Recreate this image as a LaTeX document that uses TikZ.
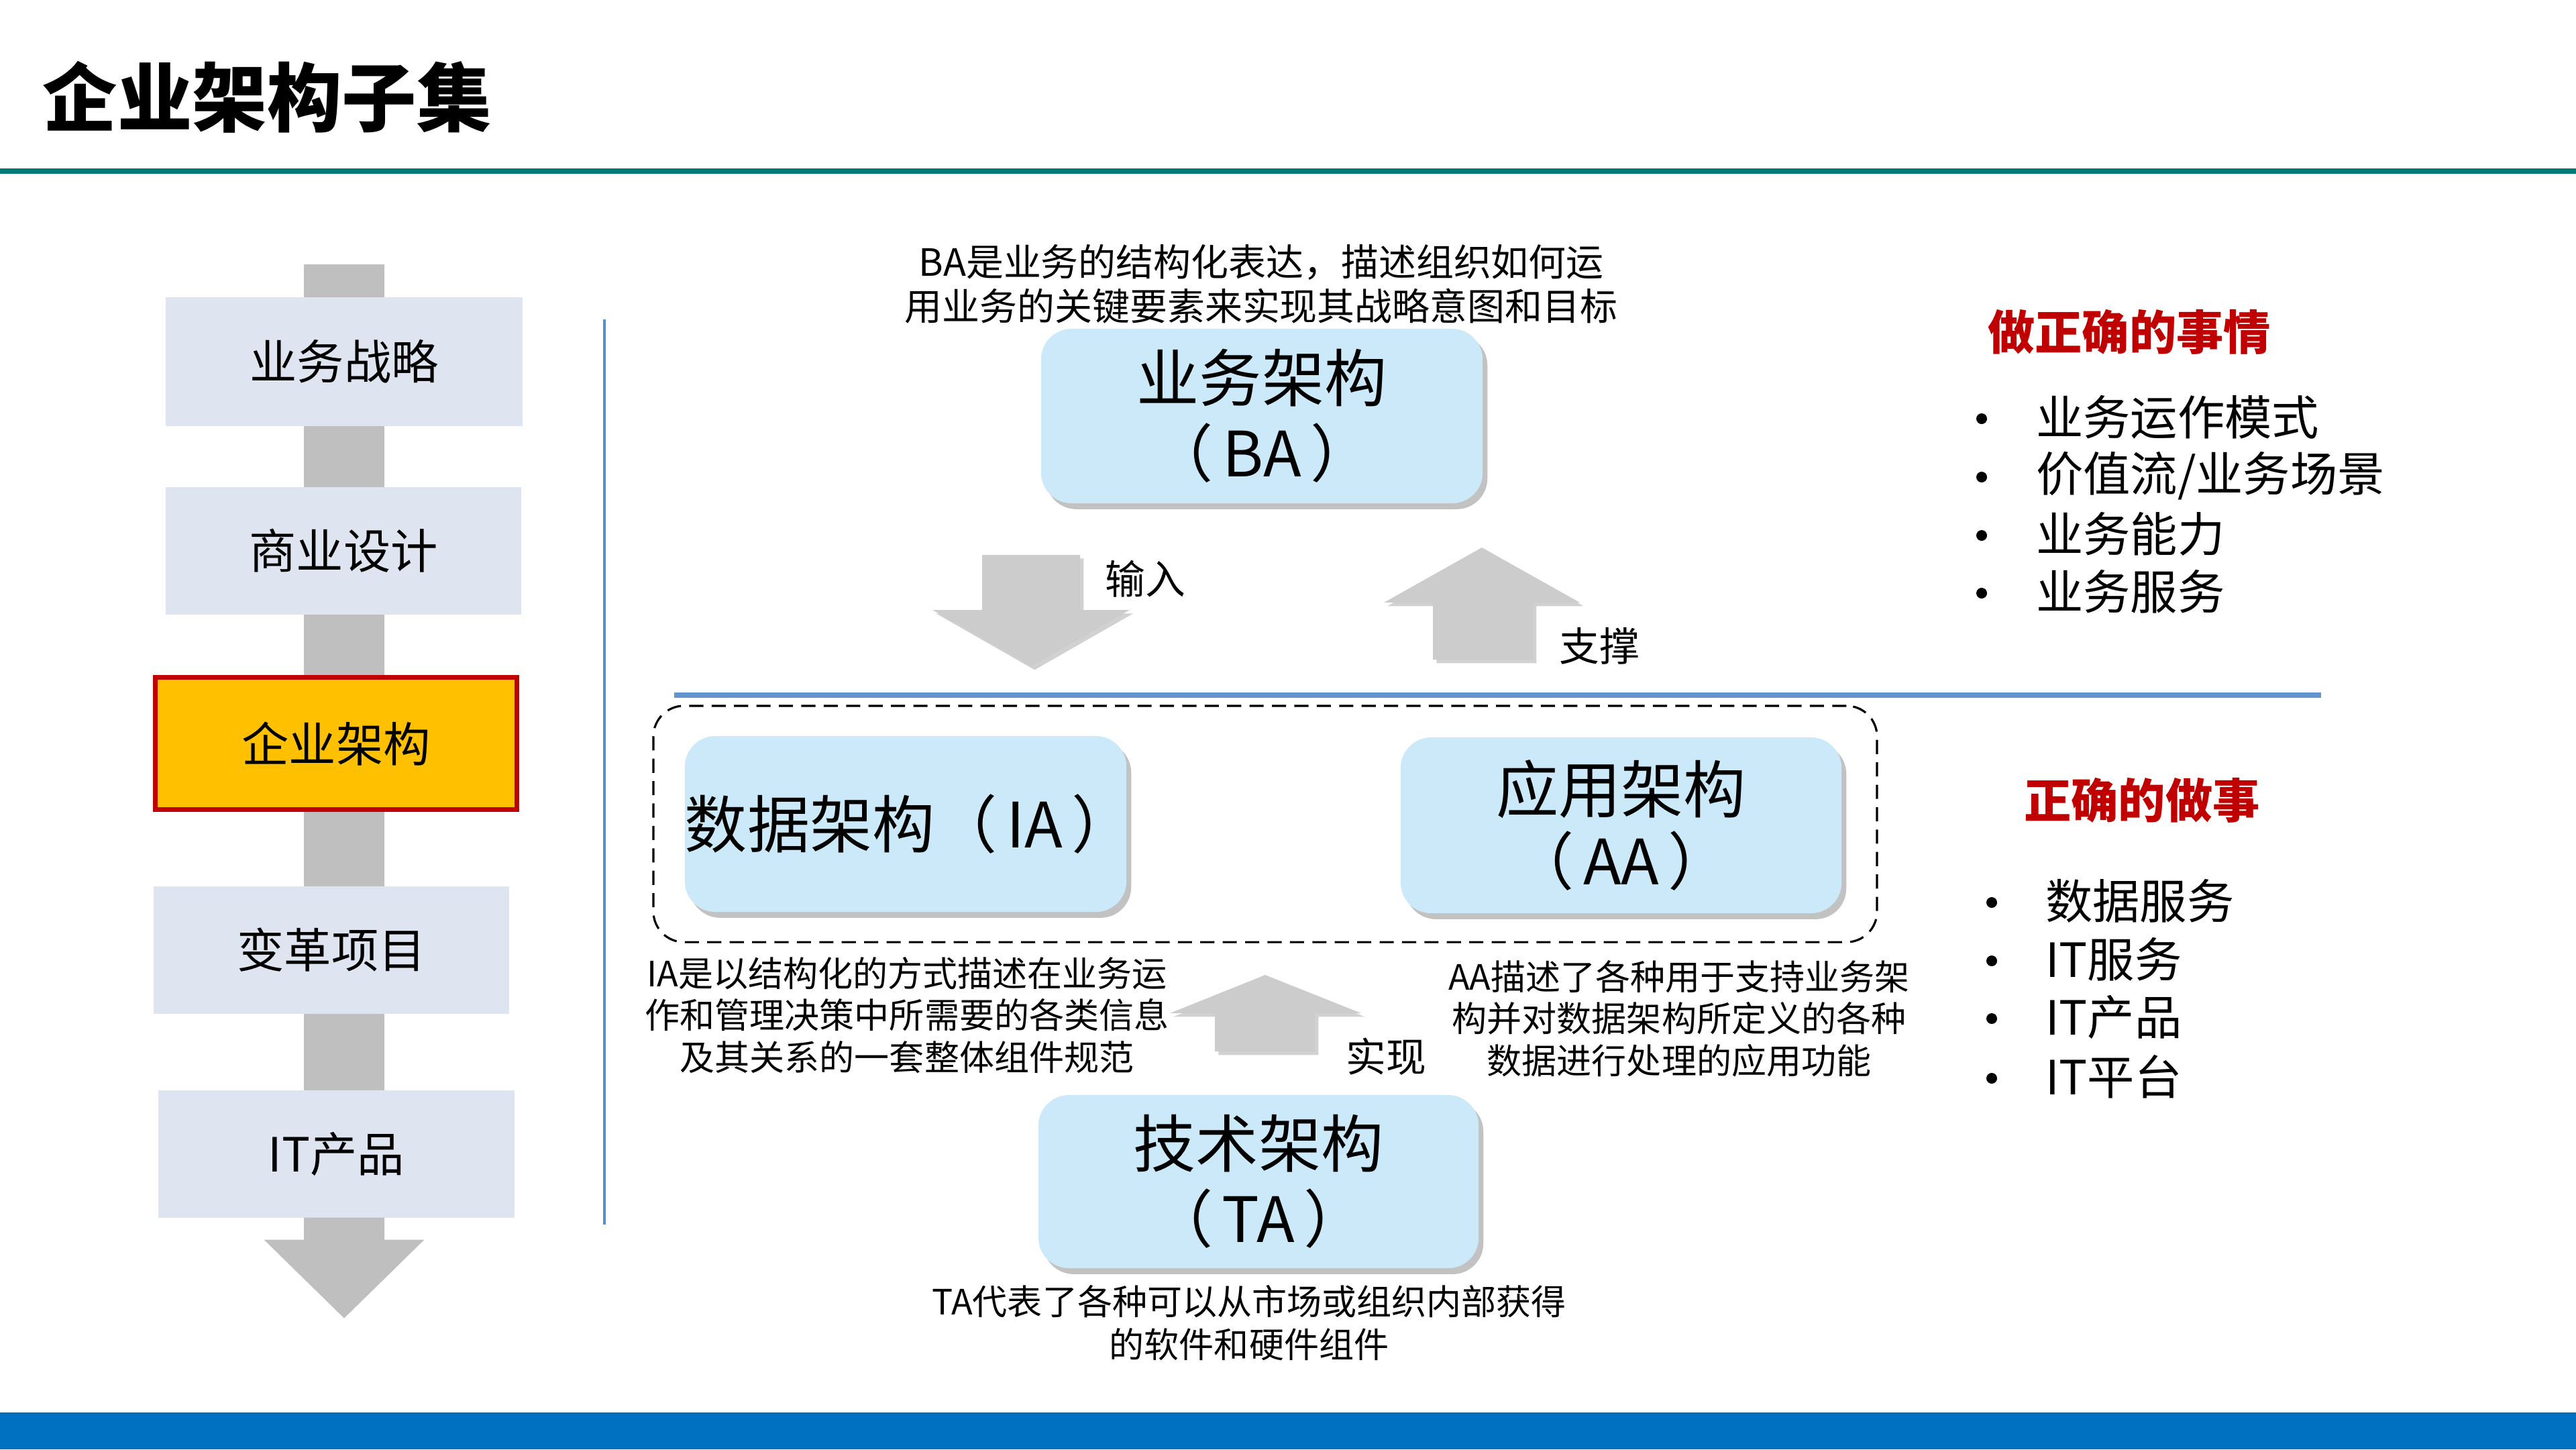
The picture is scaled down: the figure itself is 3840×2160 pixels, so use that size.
\documentclass[tikz,border=0pt]{standalone}
\usepackage{fontspec}
\setmainfont{Noto Sans CJK SC}
\usetikzlibrary{shadows,calc,backgrounds}

\newcommand\szfont[2]{\fontsize{#1}{#2}\selectfont}
\newcommand\pk{\kern3.8pt}

\definecolor{stagefill}{RGB}{222,228,240}
\definecolor{spinegray}{RGB}{191,191,191}
\definecolor{focusfill}{RGB}{255,192,0}
\definecolor{focusline}{RGB}{192,0,0}
\definecolor{archfill}{RGB}{204,233,250}
\definecolor{blockgray}{RGB}{204,204,204}
\definecolor{vrulecol}{RGB}{91,140,204}
\definecolor{hrulecol}{RGB}{98,149,207}
\definecolor{headred}{RGB}{192,0,0}
\definecolor{titleline}{RGB}{0,122,116}
\definecolor{footerblue}{RGB}{0,112,192}

\begin{document}
\begin{tikzpicture}[x=0.01cm,y=-0.01cm,
  every node/.style={inner sep=0pt, outer sep=0pt},
  stage/.style={fill=stagefill, font=\szfont{20pt}{24pt}},
  spinebar/.style={draw=spinegray, line width=1.2cm},
  arch/.style={fill=archfill, rounded corners=13pt, align=center,
    drop shadow={shadow xshift=2pt, shadow yshift=-2.5pt, opacity=0.4, fill=black!60},
    font=\szfont{26.5pt}{32pt}},
  desc/.style={align=center, font=\szfont{14.8pt}{17.8pt}},
  blockarrow/.style={fill=blockgray,
    drop shadow={shadow xshift=1.5pt, shadow yshift=-1.5pt, opacity=0.3, fill=black!60}},
  arrowlabel/.style={font=\szfont{17pt}{20pt}},
  heading/.style={anchor=west, text=headred, font=\bfseries\szfont{20pt}{24pt}},
  item/.style={anchor=west, font=\szfont{20pt}{24pt}},
  dot/.style={circle, fill=black, minimum size=0.16cm}
]
\useasboundingbox (0,0) rectangle (3840,2160);

% title and header rule
\node[anchor=west, font=\bfseries\szfont{31.7pt}{36pt}] (title) at (64,145) {企业架构子集};
\draw[titleline, line width=2.3pt] (0,255) -- (3840,255);

% footer band
\fill[footerblue] (0,2105) rectangle (3840,2160);

% left column: the stages
\node[stage, minimum width=5.32cm, minimum height=1.91cm] (b1) at (513,539) {业务战略};
\node[stage, minimum width=5.30cm, minimum height=1.90cm] (b2) at (512,821) {商业设计};
\node[stage, fill=focusfill, draw=focusline, line width=2pt,
      minimum width=5.39cm, minimum height=1.96cm] (b3) at (501,1108) {企业架构};
\node[stage, minimum width=5.30cm, minimum height=1.89cm] (b4) at (494,1416) {变革项目};
\node[stage, minimum width=5.31cm, minimum height=1.89cm] (b5) at (501.5,1720) {IT产品};

\coordinate (spine) at (513,394);
\begin{scope}[on background layer]
  \draw[spinebar] (spine) -- (b1.north -| spine);
  \draw[spinebar] (b1.south -| spine) -- (b2.north -| spine);
  \draw[spinebar] (b2.south -| spine) -- (b3.north -| spine);
  \draw[spinebar] (b3.south -| spine) -- (b4.north -| spine);
  \draw[spinebar] (b4.south -| spine) -- (b5.north -| spine);
\end{scope}
\fill[spinegray, shift={(b5.south -| spine)}]
  (-60,0) -- (60,0) -- (60,33) -- (119.5,33) -- (0,150) -- (-119.5,33) -- (-60,33) -- cycle;

% separators
\draw[vrulecol, line width=1.2pt] (901,476) -- (901,1825);
\draw[hrulecol, line width=2.3pt] (1005,1036) -- (3460,1036);

% architecture domains
\node[draw, dash pattern=on 6pt off 3.5pt, line width=0.9pt, rounded corners=13pt,
      minimum width=18.23cm, minimum height=3.52cm] (grp) at (1886,1228) {};

\node[arch, minimum width=6.58cm, minimum height=2.60cm] (ba) at (1881,620) {业务架构\\（\pk BA\pk）};
\node[arch, text width=6.58cm, align=left, minimum height=2.62cm] (ia) at (1350,1228) {数据架构（\pk IA\pk）};
\node[arch, minimum width=6.57cm, minimum height=2.62cm, font=\szfont{26.5pt}{30.5pt}] (aa) at (2416.5,1230) {应用架构\\（\pk AA\pk）};
\node[arch, minimum width=6.56cm, minimum height=2.58cm] (ta) at (1876,1761) {技术架构\\（\pk TA\pk）};

% descriptions
\node[desc, font=\szfont{15.9pt}{18.8pt}] (badesc) at (1880,423)
  {BA是业务的结构化表达，描述组织如何运\\用业务的关键要素来实现其战略意图和目标};
\node[desc] (iadesc) at (1352,1513)
  {IA是以结构化的方式描述在业务运\\作和管理决策中所需要的各类信息\\及其关系的一套整体组件规范};
\node[desc] (aadesc) at (2503,1518)
  {AA描述了各种用于支持业务架\\构并对数据架构所定义的各种\\数据进行处理的应用功能};
\node[desc, font=\szfont{14.8pt}{18.2pt}] (tadesc) at (1862,1972)
  {TA代表了各种可以从市场或组织内部获得\\的软件和硬件组件};

% block arrows between the layers
\fill[blockarrow] (1464,827) -- (1610,827) -- (1610,909) -- (1684,909) -- (1537,993)
  -- (1390,909) -- (1464,909) -- cycle;
\node[arrowlabel] (lin) at (1707,863) {输入};

\fill[blockarrow] (2136,983) -- (2285,983) -- (2285,898) -- (2355,898) -- (2209,816)
  -- (2063,898) -- (2136,898) -- cycle;
\node[arrowlabel] (lsup) at (2384,963) {支撑};

\fill[blockarrow] (1811,1567) -- (1960,1567) -- (1960,1510) -- (2029,1510) -- (1886,1453)
  -- (1744,1510) -- (1811,1510) -- cycle;
\node[arrowlabel] (lreal) at (2066,1575) {实现};

% right-hand lists
\node[heading] (h1) at (2963,495) {做正确的事情};
\node[dot] (d11) at (2954,624) {};
\node[dot] (d12) at (2954,711) {};
\node[dot] (d13) at (2954,798) {};
\node[dot] (d14) at (2954,884) {};
\node[item] (i11) at (3035,622) {业务运作模式};
\node[item] (i12) at (3035,709) {价值流/业务场景};
\node[item] (i13) at (3035,796) {业务能力};
\node[item] (i14) at (3035,882) {业务服务};

\node[heading] (h2) at (3017,1193) {正确的做事};
\node[dot] (d21) at (2969,1345) {};
\node[dot] (d22) at (2969,1432) {};
\node[dot] (d23) at (2969,1518) {};
\node[dot] (d24) at (2969,1607) {};
\node[item] (i21) at (3049,1343) {数据服务};
\node[item] (i22) at (3049,1430) {IT服务};
\node[item] (i23) at (3049,1516) {IT产品};
\node[item] (i24) at (3049,1605) {IT平台};
\end{tikzpicture}
\end{document}
